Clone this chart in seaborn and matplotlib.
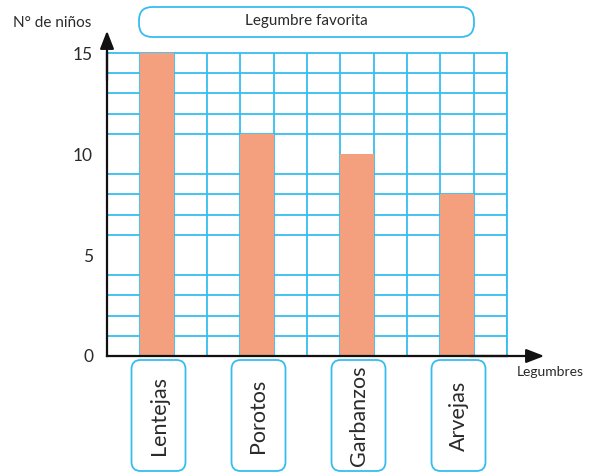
import matplotlib
matplotlib.use("Agg")
import matplotlib.pyplot as plt
from matplotlib.patches import FancyBboxPatch
import seaborn as sns
import numpy as np

categories = ["Lentejas", "Porotos", "Garbanzos", "Arvejas"]
values = [15, 11, 10, 8]
y_ticks = [0, 5, 10, 15]
title = "Legumbre favorita"
y_label = "N° de niños"
x_label = "Legumbres"

sns.set_theme(style="white")
plt.rcParams['font.family'] = ['Lato', 'DejaVu Sans']

W, H = 608, 473
fig = plt.figure(figsize=(W / 100, H / 100), dpi=100)
ax = fig.add_axes([107 / W, 1 - 356 / H, 400 / W, 303 / H])

grid_c = "#36bdf0"
bar_c = "#f4a07f"
txt_c = "#2a2a2a"
fw = "normal"

sns.barplot(x=categories, y=values, color=bar_c, width=1 / 3, saturation=1,
            linewidth=0, ax=ax, zorder=3)

ax.set_xlim(-0.5, 3.5)
ax.set_ylim(0, 15)
ax.set_xticks([-0.5 + k / 3 for k in range(13)], minor=True)
ax.set_yticks(range(16), minor=True)
ax.set_yticks(y_ticks)
ax.set_yticklabels([str(v) for v in y_ticks], fontsize=12.5, color=txt_c, fontweight=fw)
ax.set_xticks(range(len(categories)))
ax.set_xticklabels([])
ax.tick_params(which="both", length=0)
ax.tick_params(axis="y", pad=10)
ax.grid(False)
ax.grid(which="minor", axis="both", color=grid_c, lw=1.3, zorder=1)
ax.set_axisbelow(True)
ax.set_xlabel("")
ax.set_ylabel("")
for s in ["top", "right"]:
    ax.spines[s].set_color(grid_c)
    ax.spines[s].set_linewidth(1.3)
for s in ["left", "bottom"]:
    ax.spines[s].set_color("#111111")
    ax.spines[s].set_linewidth(1.6)
    ax.spines[s].set_zorder(4)

# axis arrows
ax.annotate("", xy=(0, 1 + 25 / 303), xytext=(0, 0.9), xycoords="axes fraction",
            arrowprops=dict(arrowstyle="-|>,head_length=0.9,head_width=0.35", color="#111111", lw=1.6),
            annotation_clip=False)
ax.annotate("", xy=(1 + 40 / 400, 0), xytext=(0.9, 0), xycoords="axes fraction",
            arrowprops=dict(arrowstyle="-|>,head_length=0.9,head_width=0.35", color="#111111", lw=1.6),
            annotation_clip=False)

fig.text(13 / W, 1 - 23 / H, y_label, fontsize=11, color=txt_c, va="center", ha="left", fontweight=fw)
fig.text(517 / W, 1 - 372 / H, x_label, fontsize=10, color=txt_c, va="center", ha="left", fontweight=fw)

# title box
tb = FancyBboxPatch((139 / W, 1 - 37 / H), (474 - 139) / W, 30 / H,
                    boxstyle="round,pad=0,rounding_size=0.022",
                    transform=fig.transFigure, fc="white", ec=grid_c, lw=1.3,
                    mutation_aspect=W / H)
fig.add_artist(tb)
fig.text(306 / W, 1 - 21 / H, title, fontsize=11, color=txt_c, ha="center", va="center", fontweight=fw)

# category label boxes
for i, cat in enumerate(categories):
    px = ax.transData.transform((i, 0))[0]
    bw = 54
    x0 = (px - bw / 2 + 1.5) / W
    y0 = 1 - 471 / H
    box = FancyBboxPatch((x0, y0), bw / W, 111 / H,
                         boxstyle="round,pad=0,rounding_size=0.015",
                         transform=fig.transFigure, fc="white", ec=grid_c, lw=1.3,
                         mutation_aspect=W / H)
    fig.add_artist(box)
    fig.text(x0 + bw / 2 / W, y0 + 55.5 / H, cat, rotation=90, fontsize=15.5,
             color=txt_c, ha="center", va="center", fontweight=fw)

fig.savefig("out.png", dpi=100)
